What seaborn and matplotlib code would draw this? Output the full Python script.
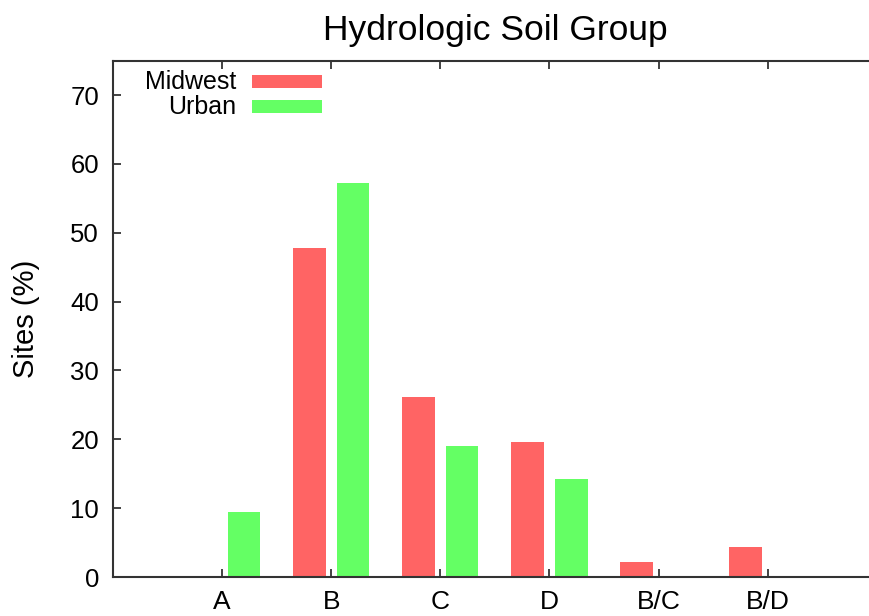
import pandas as pd
import matplotlib
matplotlib.use("Agg")
import matplotlib.pyplot as plt
from matplotlib.patches import Rectangle
import seaborn as sns

# DATA
groups = ["A", "B", "C", "D", "B/C", "B/D"]
midwest = [0.0, 47.8, 26.1, 19.6, 2.2, 4.3]
urban = [9.5, 57.2, 19.0, 14.2, 0.0, 0.0]
series = ["Midwest", "Urban"]
colors = {"Midwest": "#ff6464", "Urban": "#64ff64"}
y_ticks = [0, 10, 20, 30, 40, 50, 60, 70]

df = pd.DataFrame({
    "Group": groups * 2,
    "Sites": midwest + urban,
    "Series": ["Midwest"] * len(groups) + ["Urban"] * len(groups),
})

sns.set_style("ticks")
plt.rcParams["font.family"] = ["Liberation Sans", "DejaVu Sans"]
plt.rcParams["text.color"] = "black"
plt.rcParams["axes.labelcolor"] = "black"
plt.rcParams["xtick.color"] = "black"
plt.rcParams["ytick.color"] = "black"

fig = plt.figure(figsize=(8.7, 6.16), dpi=100)
ax = fig.add_axes([0.1299, 0.0633, 0.8778, 0.8381])

sns.barplot(data=df, x="Group", y="Sites", hue="Series", order=groups,
            hue_order=series, palette=colors, saturation=1, width=0.8,
            gap=0.25, linewidth=0, legend=False, ax=ax)

ax.set_xlim(-1, 6)
ax.set_ylim(0, 75)
ax.set_yticks(y_ticks)
ax.set_xlabel("")
ax.set_ylabel("Sites (%)", fontsize=21, labelpad=22)
ax.set_title("Hydrologic Soil Group", fontsize=25.5, pad=15)

for s in ax.spines.values():
    s.set_color("#333333")
    s.set_linewidth(1.5)
# right border falls just outside the picture in the reference
ax.spines["right"].set_visible(False)
ax.tick_params(direction="in", length=6, width=1.2, color="#222222",
               top=True, right=True)
ax.tick_params(axis="x", pad=9, labelsize=19)
ax.tick_params(axis="y", pad=10, labelsize=18.5)

# gnuplot-style key: right-aligned labels with colour sample to the right
for i, name in enumerate(series):
    y = 0.959 - i * 0.048
    ax.text(0.161, y, name, transform=ax.transAxes, ha="right", va="center",
            fontsize=18)
    ax.add_patch(Rectangle((0.182, y - 0.0125), 0.092, 0.025,
                           transform=ax.transAxes, color=colors[name],
                           linewidth=0))

fig.savefig("out.png", dpi=100)
